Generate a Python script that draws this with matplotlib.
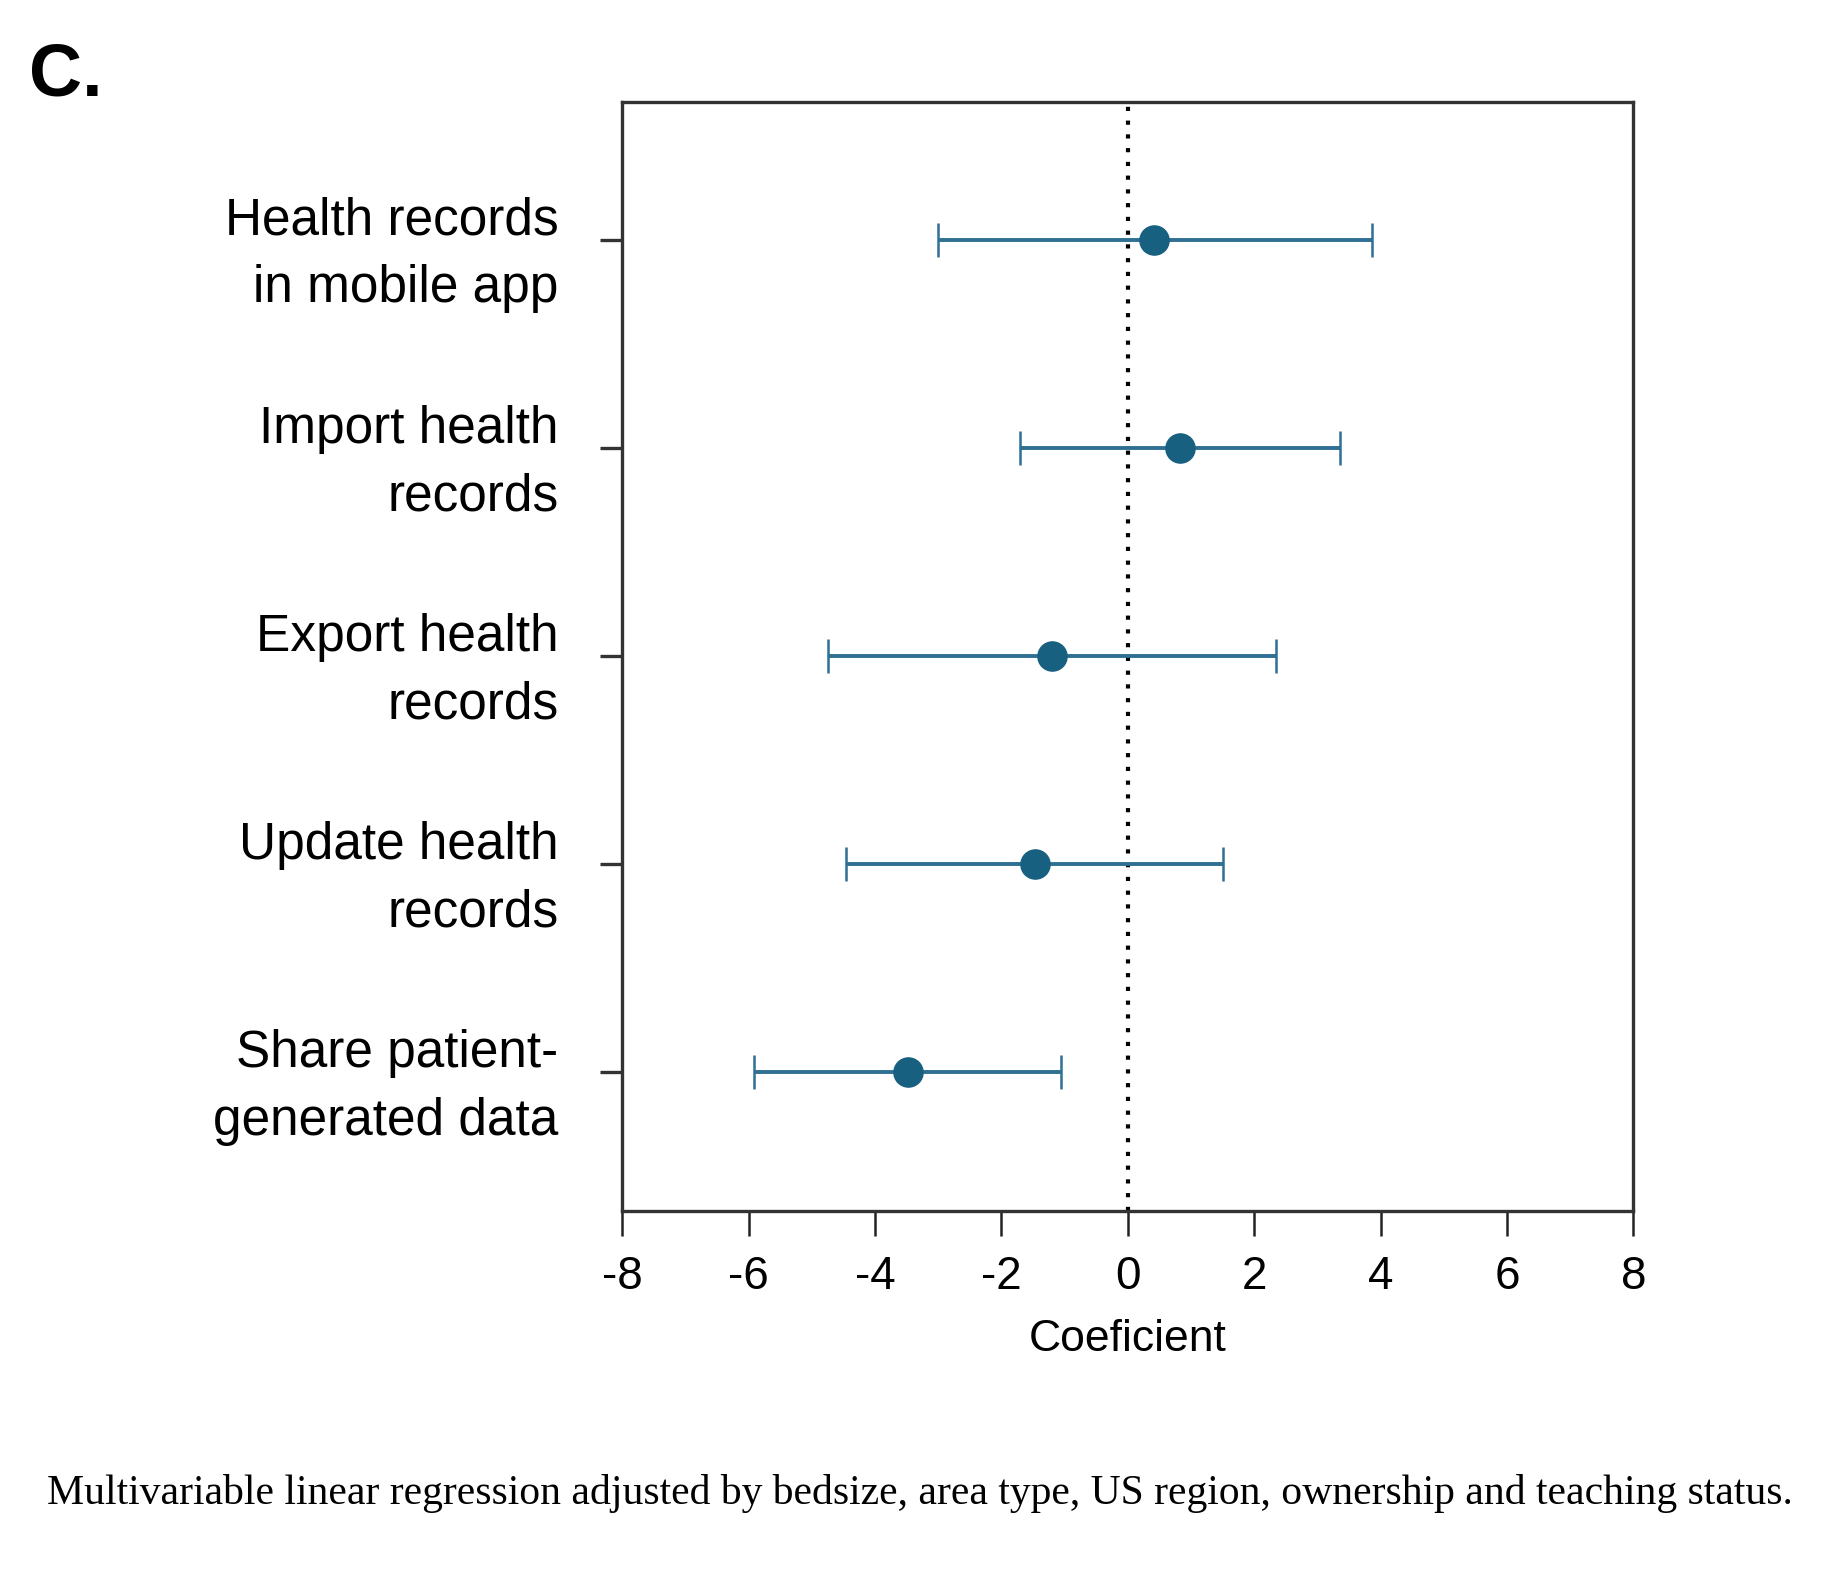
import matplotlib
matplotlib.use('Agg')
import matplotlib.pyplot as plt

# rows from top to bottom
labels = ['Health records\nin mobile app',
          'Import health\nrecords',
          'Export health\nrecords',
          'Update health\nrecords',
          'Share patient-\ngenerated data']
coef = [0.42, 0.83, -1.20, -1.47, -3.48]
ci_low = [-3.00, -1.70, -4.74, -4.46, -5.92]
ci_high = [3.87, 3.35, 2.34, 1.51, -1.05]
xticks = [-8, -6, -4, -2, 0, 2, 4, 6, 8]

narrow = ['Liberation Sans Narrow', 'Liberation Sans', 'DejaVu Sans']

fig = plt.figure(figsize=(18.25, 15.87), dpi=100)
ax = fig.add_axes([0.341, 0.237, 0.554, 0.699])

ypos = list(range(len(labels), 0, -1))
err_lo = [c - lo for c, lo in zip(coef, ci_low)]
err_hi = [hi - c for c, hi in zip(coef, ci_high)]

ax.axvline(0, color='black', lw=3, linestyle=(0, (1, 2.3)), zorder=1)
ax.errorbar(coef, ypos, xerr=[err_lo, err_hi], fmt='o',
            color='#17607f', ecolor='#2f6f94', elinewidth=2.8,
            capsize=12, capthick=1.8, markersize=21, zorder=3)

ax.set_xlim(-8, 8)
ax.set_ylim(1 - 0.665, len(labels) + 0.665)
ax.set_xticks(xticks)
ax.set_xticklabels([str(t) for t in xticks], fontfamily=narrow, fontsize=33)
ax.set_yticks(ypos)
ax.set_yticklabels(labels, fontfamily=narrow, fontsize=37, linespacing=1.5)
ax.tick_params(axis='y', length=16, width=2.4, color='#333333', pad=30)
ax.tick_params(axis='x', length=18, width=1.8, color='#222222', pad=14)
for s in ax.spines.values():
    s.set_linewidth(2.4)
    s.set_color('#333333')

ax.set_xlabel('Coeficient', fontfamily=narrow, fontsize=32, labelpad=14)

fig.text(0.016, 0.974, 'C.', fontsize=53, fontweight='bold',
         fontfamily='Liberation Sans', va='top', ha='left')
fig.text(0.504, 0.052, 'Multivariable linear regression adjusted by bedsize, area type, '
         'US region, ownership and teaching status.',
         fontfamily=['Liberation Serif', 'DejaVu Serif'], fontsize=30,
         ha='center', va='baseline')

fig.savefig('out.png', dpi=100, facecolor='white')
